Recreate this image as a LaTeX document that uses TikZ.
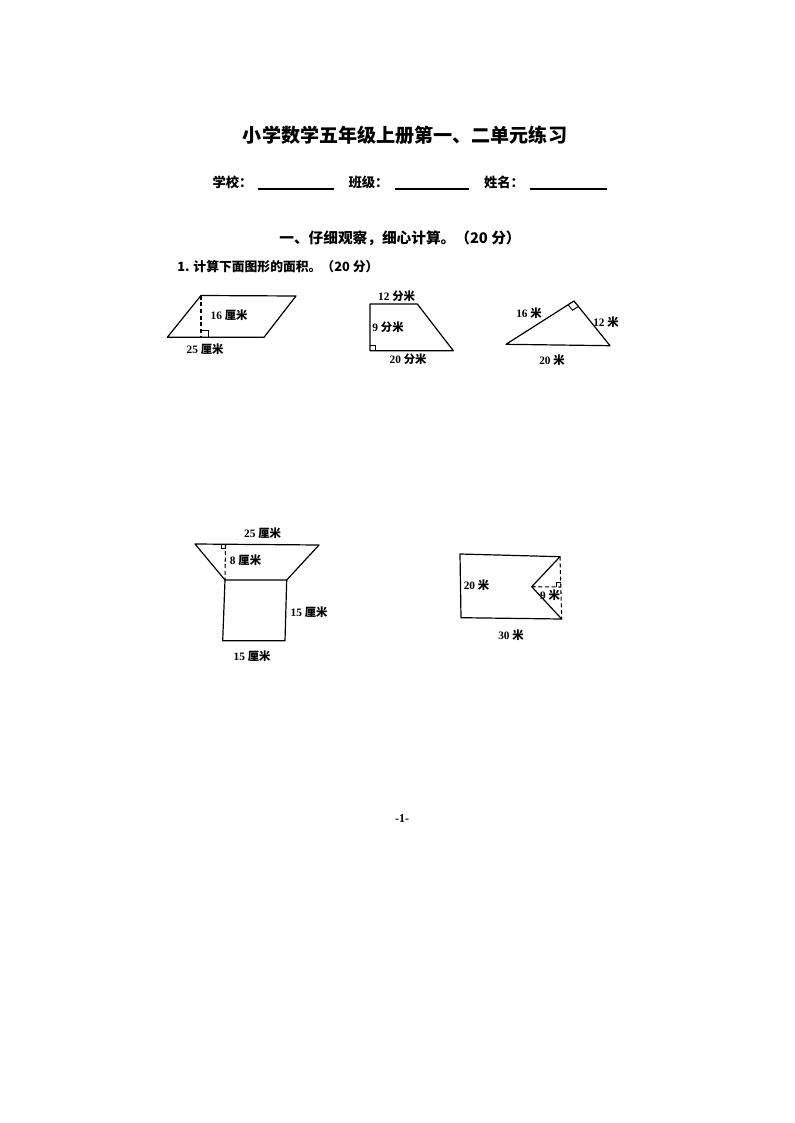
\documentclass[tikz,border=0pt]{standalone}
\usepackage{fontspec}
\setmainfont{Liberation Serif}
\newfontfamily\cjk{Noto Sans CJK SC}
\usetikzlibrary{calc}
\newcommand\lbl[2]{\textbf{#1} {\cjk\bfseries #2}}
\tikzset{
  fig/.style={line width=0.9pt, line join=round},
  hgt/.style={line width=0.8pt, dash pattern=on 3pt off 2pt},
  ra/.style={line width=0.7pt},
  lab/.style={font=\fontsize{8.5}{10}\selectfont, inner sep=0pt},
  blank/.style={line width=0.8pt},
  infotxt/.style={font=\fontsize{10}{12}\selectfont\cjk\bfseries, inner sep=0pt},
}
\begin{document}
\begin{tikzpicture}[x=0.75pt,y=-0.75pt]
\useasboundingbox (0,0) rectangle (794,1123);
\fill[white] (0,0) rectangle (794,1123);

% header
\node[font=\fontsize{14.3}{16}\selectfont\cjk\bfseries, inner sep=0pt] (title) at (405,135) {小学数学五年级上册第一、二单元练习};
\node[infotxt] (school) at (232.5,182) {学校：};
\node[infotxt] (class) at (368.5,182) {班级：};
\node[infotxt] (name) at (504,182) {姓名：};
\coordinate (b1a) at (258,189); \coordinate (b1b) at (334,189);
\coordinate (b2a) at (395,189); \coordinate (b2b) at (469,189);
\coordinate (b3a) at (530,189); \coordinate (b3b) at (607,189);
\draw[blank] (b1a) -- (b1b);
\draw[blank] (b2a) -- (b2b);
\draw[blank] (b3a) -- (b3b);
\node[font=\fontsize{11}{13}\selectfont\cjk\bfseries, inner sep=0pt] (sec) at (400,238.5) {一、仔细观察，细心计算。（20 分）};
\node[font=\fontsize{9.6}{12}\selectfont\cjk\bfseries, inner sep=0pt, anchor=west] (item) at (177,266.7) {1. 计算下面图形的面积。（20 分）};

% parallelogram
\coordinate (pA) at (167.3,337.3);
\coordinate (pB) at (264,337.3);
\coordinate (pC) at (296,296);
\coordinate (pD) at (201,295.5);
\coordinate (pH) at (201,337.3);
\draw[fig] (pA) -- (pB) -- (pC) -- (pD) -- cycle;
\draw[hgt] (pD) -- (pH);
\draw[ra] (201,330.3) -- (208,330.3) -- (208,337.3);
\node[lab] (p16) at (229,315.5) {\lbl{16}{厘米}};
\node[lab] (p25) at (205,349) {\lbl{25}{厘米}};

% right trapezoid
\coordinate (tA) at (370,350.7);
\coordinate (tB) at (453.3,350.7);
\coordinate (tC) at (417.3,304);
\coordinate (tD) at (370,304);
\draw[fig] (tA) -- (tB) -- (tC) -- (tD) -- cycle;
\draw[ra] (370,345.2) -- (375.5,345.2) -- (375.5,350.7);
\node[lab] (t12) at (396.5,296.5) {\lbl{12}{分米}};
\node[lab] (t9) at (388,327) {\lbl{9}{分米}};
\node[lab] (t20) at (408,359.5) {\lbl{20}{分米}};

% right triangle
\coordinate (rL) at (506,344.3);
\coordinate (rR) at (610,345.7);
\coordinate (rT) at (574,301);
\draw[fig] (rL) -- (rR) -- (rT) -- cycle;
\draw[ra] (568.1,304.7) -- (572.5,310.2) -- (578.4,306.5);
\node[lab] (r16) at (529,313) {\lbl{16}{米}};
\node[lab] (r12) at (606,322) {\lbl{12}{米}};
\node[lab] (r20) at (552,360.5) {\lbl{20}{米}};

% trapezoid on square
\coordinate (qA) at (195,544);
\coordinate (qB) at (319,545);
\coordinate (qC) at (286.7,580);
\coordinate (qD) at (225,580);
\coordinate (qE) at (222.7,640.7);
\coordinate (qF) at (285,640.7);
\coordinate (qT) at (225.5,544.2);
\draw[fig] (qA) -- (qB) -- (qC) -- (qD) -- cycle;
\draw[fig] (qD) -- (qE) -- (qF) -- (qC);
\draw[hgt] (qT) -- (qD);
\draw[ra] (221.2,544.2) -- (221.2,548.5) -- (225.5,548.5);
\node[lab] (q25) at (262.5,533.5) {\lbl{25}{厘米}};
\node[lab] (q8) at (245.5,560) {\lbl{8}{厘米}};
\node[lab] (q15r) at (309,612.5) {\lbl{15}{厘米}};
\node[lab] (q15b) at (252,656.5) {\lbl{15}{厘米}};

% rectangle with notch
\coordinate (nA) at (460,554);
\coordinate (nB) at (560,556.7);
\coordinate (nC) at (561.7,619);
\coordinate (nD) at (461,617.7);
\coordinate (nP) at (531.7,586.7);
\coordinate (nM) at (560.9,587);
\draw[fig] (nB) -- (nA) -- (nD) -- (nC) -- (nP) -- cycle;
\draw[hgt] (nB) -- (nC);
\draw[hgt] (nP) -- (nM);
\draw[ra] (556.6,587) -- (556.6,582.8) -- (560.8,582.8);
\node[lab] (n20) at (476.5,585.5) {\lbl{20}{米}};
\node[lab] (n9) at (550,595) {\lbl{9}{米}};
\node[lab] (n30) at (511,635.5) {\lbl{30}{米}};

% page number
\node[font=\fontsize{9}{11}\selectfont\bfseries, inner sep=0pt] (page) at (402,819) {-1-};
\end{tikzpicture}
\end{document}
